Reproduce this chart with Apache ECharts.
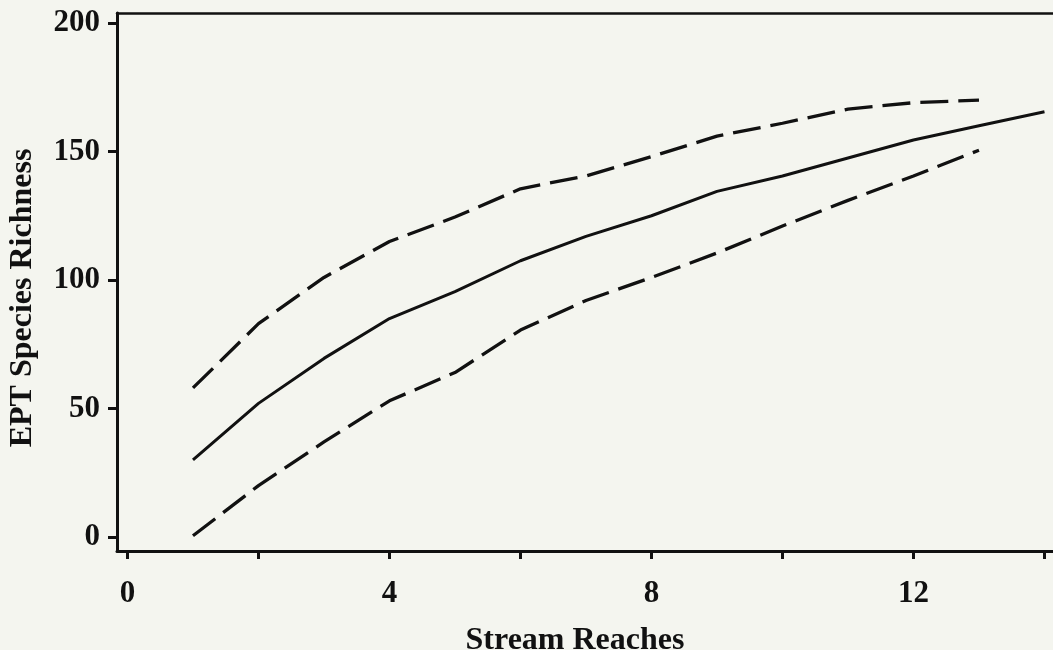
<!DOCTYPE html>
<html>
<head>
<meta charset="utf-8">
<script src="https://cdn.jsdelivr.net/npm/echarts@6/dist/echarts.min.js"></script>
<style>
html,body{margin:0;padding:0;background:#f4f5ef;}
#c{width:1053px;height:650px;}
</style>
</head>
<body>
<div id="c"></div>
<script>
// Data
var reaches = [1, 2, 3, 4, 5, 6, 7, 8, 9, 10, 11, 12, 13, 14];
var meanRichness = [30, 52, 69.5, 85, 95.5, 107.5, 117, 125, 134.5, 140.5, 147.5, 154.5, 160, 165.5];
var upperBound = [58, 83, 101, 115, 124.5, 135.5, 140.5, 148, 156, 161, 166.5, 169, 170];
var lowerBound = [0.5, 20, 37, 53, 64, 80.5, 92, 101, 110.5, 121, 131, 140.5, 150.5];
var xTickValues = [0, 2, 4, 6, 8, 10, 12, 14];
var xLabelValues = [0, 4, 8, 12];
var yTickValues = [0, 50, 100, 150, 200];

function pairs(xs, ys) {
  var out = [];
  for (var i = 0; i < ys.length; i++) out.push([xs[i], ys[i]]);
  return out;
}

var font = 'Liberation Serif';
var ink = '#111111';

var chart = echarts.init(document.getElementById('c'), null, {renderer: 'canvas'});
chart.setOption({
  backgroundColor: '#f4f5ef',
  animation: false,
  grid: {left: 117, right: 0, top: 13, bottom: 99, containLabel: false, outerBoundsMode: 'none'},
  xAxis: [{
    type: 'value',
    min: -0.16,
    max: 14.13,
    name: 'Stream Reaches',
    nameLocation: 'middle',
    nameGap: 74,
    nameTextStyle: {fontFamily: font, fontWeight: 'bold', fontSize: 32, color: ink, padding: [0, 20, 0, 0]},
    axisLine: {show: true, onZero: false, lineStyle: {color: ink, width: 3}},
    axisTick: {show: true, length: 8, lineStyle: {color: ink, width: 3}, customValues: xTickValues},
    axisLabel: {show: true, margin: 27, fontFamily: font, fontWeight: 'bold', fontSize: 31, color: ink, customValues: xLabelValues},
    splitLine: {show: false}
  }, {
    type: 'value',
    position: 'top',
    min: -0.16,
    max: 14.13,
    axisLine: {show: true, onZero: false, lineStyle: {color: ink, width: 2.5}},
    axisTick: {show: false},
    axisLabel: {show: false},
    splitLine: {show: false}
  }],
  yAxis: {
    type: 'value',
    min: -5.45,
    max: 203.9,
    name: 'EPT Species Richness',
    nameLocation: 'middle',
    nameGap: 78,
    nameTextStyle: {fontFamily: font, fontWeight: 'bold', fontSize: 32, color: ink, padding: [0, 32, 0, 0]},
    axisLine: {show: true, onZero: false, lineStyle: {color: ink, width: 3}},
    axisTick: {show: true, length: 9, lineStyle: {color: ink, width: 3}, customValues: yTickValues},
    axisLabel: {show: true, margin: 17, fontFamily: font, fontWeight: 'bold', fontSize: 31, color: ink, customValues: yTickValues},
    splitLine: {show: false}
  },
  series: [{
    type: 'line',
    name: 'Mean',
    data: pairs(reaches, meanRichness),
    showSymbol: false,
    symbol: 'none',
    lineStyle: {color: ink, width: 3, type: 'solid'}
  }, {
    type: 'line',
    name: 'Upper',
    data: pairs(reaches, upperBound),
    showSymbol: false,
    symbol: 'none',
    lineStyle: {color: ink, width: 3.3, type: [28, 10]}
  }, {
    type: 'line',
    name: 'Lower',
    data: pairs(reaches, lowerBound),
    showSymbol: false,
    symbol: 'none',
    lineStyle: {color: ink, width: 3.3, type: [28, 10]}
  }]
});
</script>
</body>
</html>
